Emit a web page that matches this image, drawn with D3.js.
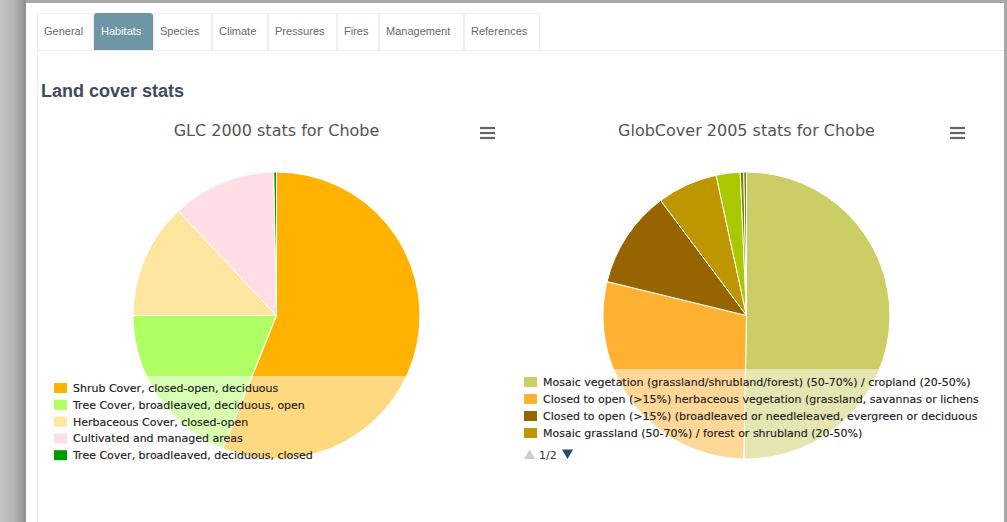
<!DOCTYPE html>
<html>
<head>
<meta charset="utf-8">
<script src="https://cdn.jsdelivr.net/npm/d3@7"></script>
<style>
  html, body { margin: 0; padding: 0; background: #a9a9a9; }
  svg { display: block; }
</style>
</head>
<body>
<div id="chart"></div>
<script>
// tabs
const tabNames = ["General", "Habitats", "Species", "Climate", "Pressures", "Fires", "Management", "References"];
const activeTab = "Habitats";

// GLC 2000 (percent of area)
const glcLabels = [
    "Shrub Cover, closed-open, deciduous",
    "Tree Cover, broadleaved, deciduous, open",
    "Herbaceous Cover, closed-open",
    "Cultivated and managed areas",
    "Tree Cover, broadleaved, deciduous, closed"
];
const glcValues = [56.1, 18.9, 13.0, 11.7, 0.3];
const glcColors = ["#ffb300", "#b0ff62", "#ffe6a0", "#ffdfe5", "#009a00"];

// GlobCover 2005 (percent of area), legend page 1 of 2 shows the first four
const globLabels = [
    "Mosaic vegetation (grassland/shrubland/forest) (50-70%) / cropland (20-50%)",
    "Closed to open (>15%) herbaceous vegetation (grassland, savannas or lichens/mosses)",
    "Closed to open (>15%) (broadleaved or needleleaved, evergreen or deciduous) shrubland (<5m)",
    "Mosaic grassland (50-70%) / forest or shrubland (20-50%)",
    "Open (15-40%) broadleaved deciduous forest/woodland (>5m)",
    "Mosaic forest or shrubland (50-70%) / grassland (20-50%)",
    "Closed to open (>15%) mixed broadleaved and needleleaved forest (>5m)"
];
const globValues = [50.3, 28.5, 11.0, 6.8, 2.7, 0.4, 0.3];
const globColors = ["#cdcd66", "#ffb132", "#966400", "#be9600", "#aac800", "#6e8c00", "#788200"];
const globPage = "1/2";

const W = 1007, H = 522;
const svg = d3.select("#chart")
    .append("svg")
    .attr("width", W)
    .attr("height", H);

const defs = svg.append("defs");
const grad = defs.append("linearGradient").attr("id", "edge").attr("x1", 0).attr("x2", 1);
grad.append("stop").attr("offset", "0%").attr("stop-color", "#c4c4c4");
grad.append("stop").attr("offset", "55%").attr("stop-color", "#b4b4b4");
grad.append("stop").attr("offset", "100%").attr("stop-color", "#8e8e8e");

// frame around the screenshot
svg.append("rect").attr("width", W).attr("height", H).attr("fill", "#a8a8a8");
svg.append("rect").attr("x", 0).attr("y", 0).attr("width", 26).attr("height", H).attr("fill", "url(#edge)");
svg.append("rect").attr("x", 26).attr("y", 3).attr("width", 978).attr("height", H - 3).attr("fill", "#fff");

// tabs
const tabEdges = [37, 94, 153, 212, 268, 337, 379, 464, 540];
const tabs = svg.append("g");
tabNames.forEach((name, i) => {
    let x0 = tabEdges[i], x1 = tabEdges[i + 1];
    let active = name === activeTab;
    if (active) {
        tabs.append("path")
            .attr("d", `M${x0},50 V16 Q${x0},13 ${x0 + 3},13 H${x1 - 3} Q${x1},13 ${x1},16 V50 Z`)
            .attr("fill", "#6c95a6");
    } else {
        tabs.append("rect")
            .attr("x", x0 + 0.5).attr("y", 13.5)
            .attr("width", x1 - x0 - 1).attr("height", 37)
            .attr("fill", "none").attr("stroke", "#f0f0f0");
    }
    tabs.append("text")
        .attr("x", x0 + 7)
        .attr("y", 35)
        .attr("font-family", "Liberation Sans, Arial, sans-serif")
        .attr("font-size", 11)
        .attr("fill", active ? "#fff" : "#6a6a6a")
        .text(name);
});
svg.append("line").attr("x1", 37).attr("x2", 1004).attr("y1", 50.5).attr("y2", 50.5).attr("stroke", "#eeeeee");
svg.append("line").attr("x1", 37.5).attr("x2", 37.5).attr("y1", 50).attr("y2", H).attr("stroke", "#f0f0f0");

svg.append("text")
    .attr("x", 41).attr("y", 97)
    .attr("font-family", "Liberation Sans, Arial, sans-serif")
    .attr("font-size", 18)
    .attr("font-weight", "bold")
    .attr("fill", "#3d4b5c")
    .text("Land cover stats");

const radius = 143.5;
const pie = d3.pie().sort(null).value(d => d).startAngle(0).endAngle(2 * Math.PI);
const arc = d3.arc().innerRadius(0).outerRadius(radius);

function drawPie(cx, cy, title, values, colors) {
    let g = svg.append("g");
    g.append("text")
        .attr("x", cx).attr("y", 136)
        .attr("text-anchor", "middle")
        .attr("font-family", "DejaVu Sans, sans-serif")
        .attr("font-size", 16)
        .attr("fill", "#555")
        .text(title);

    let pg = g.append("g").attr("transform", `translate(${cx},${cy})`);
    pg.selectAll("path")
        .data(pie(values))
        .join("path")
        .attr("d", arc)
        .attr("fill", (d, i) => colors[i])
        .attr("stroke", "#fff")
        .attr("stroke-width", 1)
        .attr("stroke-linejoin", "round");
    return g;
}

function drawMenu(x, y) {
    let m = svg.append("g");
    for (let i = 0; i < 3; i++) {
        m.append("line")
            .attr("x1", x).attr("x2", x + 15)
            .attr("y1", y + i * 5).attr("y2", y + i * 5)
            .attr("stroke", "#666").attr("stroke-width", 2.2);
    }
}

// cut a label down so it ends inside the legend box, like the page does
function fitText(sel, maxW) {
    sel.each(function () {
        let t = d3.select(this);
        let s = t.text();
        while (s.length > 1 && this.getComputedTextLength() > maxW) {
            s = s.slice(0, -1);
            t.text(s);
        }
    });
}

// perPage: how many labels are written on the visible page (the next one only peeks out)
function drawLegend(opts, labels, colors) {
    let g = svg.append("g");
    g.append("rect")
        .attr("x", opts.bx).attr("y", opts.by)
        .attr("width", opts.bw).attr("height", opts.bh)
        .attr("fill", "#fff").attr("fill-opacity", 0.5);

    let items = g.append("g");
    if (opts.clip) {
        defs.append("clipPath").attr("id", opts.clip.id)
            .append("rect")
            .attr("x", opts.clip.x).attr("y", opts.clip.y)
            .attr("width", opts.clip.w).attr("height", opts.clip.h);
        items.attr("clip-path", `url(#${opts.clip.id})`);
    }
    let perPage = opts.perPage || labels.length;
    let shown = labels.slice(0, Math.min(labels.length, perPage + 1));
    let row = items.selectAll("g")
        .data(shown)
        .join("g")
        .attr("transform", (d, i) => `translate(${opts.x},${opts.y + i * opts.step})`);
    row.append("rect")
        .attr("x", 0).attr("y", 0)
        .attr("width", 13).attr("height", 10)
        .attr("fill", (d, i) => colors[i]);
    let txt = row.filter((d, i) => i < perPage)
        .append("text")
        .attr("x", 19).attr("y", 9)
        .attr("font-family", "DejaVu Sans, sans-serif")
        .attr("font-size", 11)
        .attr("fill", "#222")
        .attr("stroke", "#222")
        .attr("stroke-width", 0.15)
        .text(d => d);
    if (opts.maxW) fitText(txt, opts.maxW);
    return g;
}

drawPie(276.5, 315.5, "GLC 2000 stats for Chobe", glcValues, glcColors);
drawPie(746.5, 315.5, "GlobCover 2005 stats for Chobe", globValues, globColors);
drawMenu(480, 128);
drawMenu(950, 128);

drawLegend({bx: 44, by: 376, bw: 466, bh: 87, x: 54, y: 383, step: 16.8}, glcLabels, glcColors);
drawLegend({bx: 514, by: 369, bw: 468, bh: 94, x: 524, y: 377, step: 17, perPage: 4, maxW: 438,
    clip: {id: "globclip", x: 514, y: 370, w: 470, h: 72}}, globLabels, globColors);

// legend paging
const nav = svg.append("g");
nav.append("path").attr("d", "M524,459 L529.5,449.5 L535,459 Z").attr("fill", "#cccccc");
nav.append("text")
    .attr("x", 539).attr("y", 459)
    .attr("font-family", "DejaVu Sans, sans-serif")
    .attr("font-size", 11)
    .attr("fill", "#333")
    .text(globPage);
nav.append("path").attr("d", "M562,449.5 L573,449.5 L567.5,459 Z").attr("fill", "#274b6d");
</script>
</body>
</html>
